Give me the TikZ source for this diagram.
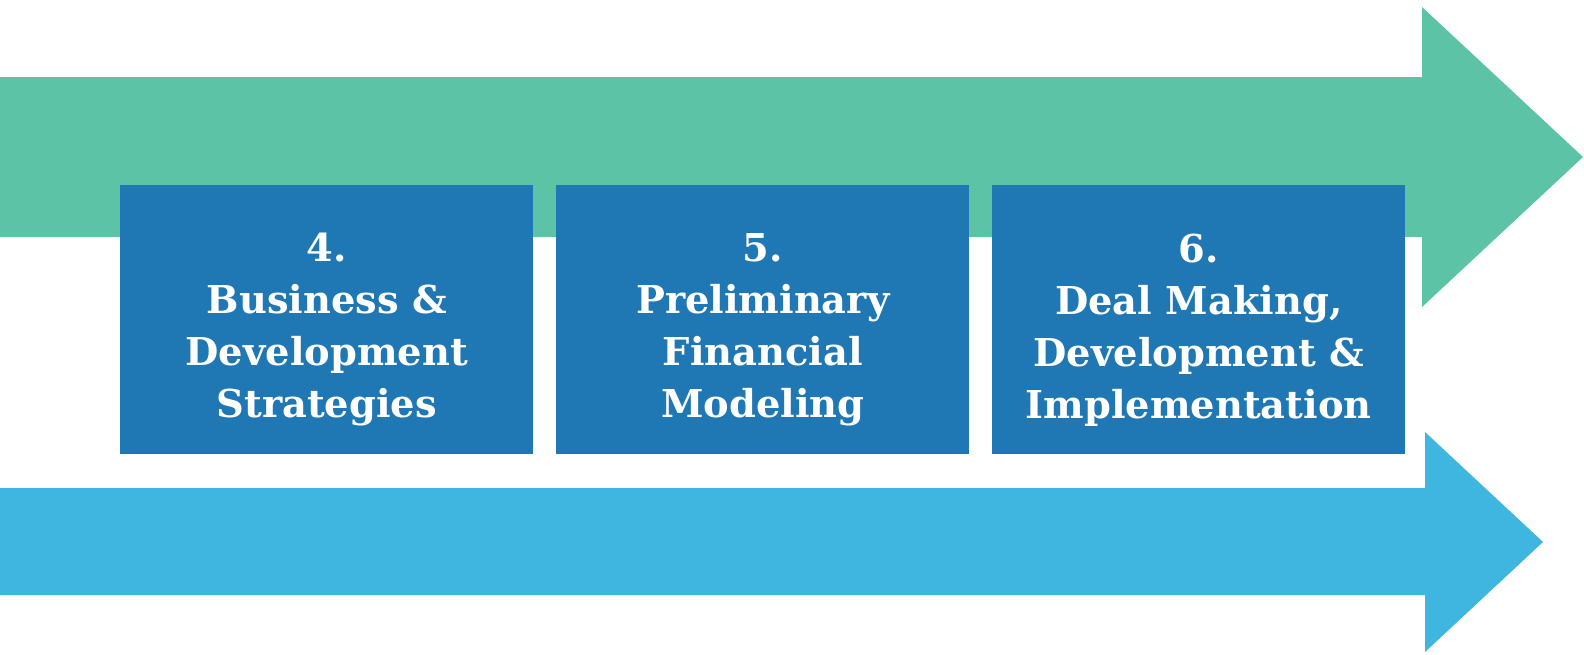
\documentclass[tikz,border=0pt]{standalone}
\usepackage{fontspec}
\setmainfont{DejaVu Serif}
\definecolor{arrowgreen}{HTML}{5CC3A7}
\definecolor{arrowblue}{HTML}{3FB6DF}
\definecolor{boxblue}{HTML}{1F77B4}
\begin{document}
\begin{tikzpicture}[x=0.75pt,y=-0.75pt,
  stepbox/.style={fill=boxblue,draw=none,minimum width=309.75pt,minimum height=201.75pt,anchor=north west,inner sep=0pt},
  steptext/.style={text=white,align=center,font=\bfseries\fontsize{28.8}{39}\selectfont,inner sep=0pt}]
\useasboundingbox (0,0) rectangle (1584,654);
% green arrow
\fill[arrowgreen] (0,77) -- (1422,77) -- (1422,7) -- (1583,157) -- (1422,307) -- (1422,237) -- (0,237) -- cycle;
% blue arrow
\fill[arrowblue] (0,488) -- (1425,488) -- (1425,432) -- (1543,542) -- (1425,652) -- (1425,595) -- (0,595) -- cycle;
% boxes
\node[stepbox] (b4) at (120,185) {};
\node[stepbox] (b5) at (556,185) {};
\node[stepbox] (b6) at (992,185) {};
\node[steptext] (t4) at ([yshift=-7.5pt]b4.center) {4.\\Business \&\\Development\\Strategies};
\node[steptext] (t5) at ([yshift=-7.5pt]b5.center) {5.\\Preliminary\\Financial\\Modeling};
\node[steptext] (t6) at ([yshift=-7.5pt]b6.center) {6.\\Deal Making,\\Development \&\\Implementation};
\end{tikzpicture}
\end{document}
